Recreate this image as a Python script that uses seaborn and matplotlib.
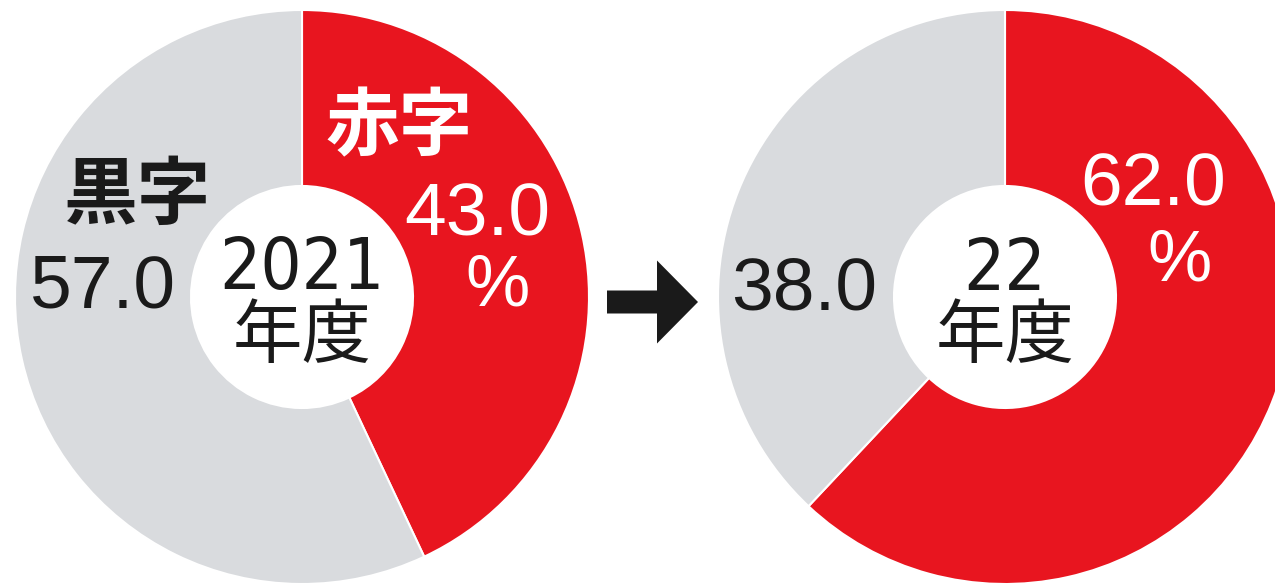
import matplotlib
matplotlib.use("Agg")
import matplotlib.pyplot as plt
import seaborn as sns
from matplotlib.patches import FancyArrow

sns.set_theme(style="white")
plt.rcParams['font.family'] = ['Noto Sans CJK JP', 'DejaVu Sans']

# data
year_labels = ['2021\n年度', '22\n年度']
red_share = [43.0, 62.0]     # 赤字
black_share = [57.0, 38.0]   # 黒字
palette = ['#E8151F', '#D9DBDE']

W, H = 1275, 586
fig = plt.figure(figsize=(W / 100, H / 100), dpi=100)
ax = fig.add_axes([0, 0, 1, 1])
ax.set_xlim(0, W)
ax.set_ylim(0, H)
ax.set_aspect('equal')
ax.axis('off')


def py(y):
    # pixel row -> data y
    return H - y


R = 287
hole = 111
centers = [(302, 297), (1005, 297)]

for i, (cx, cy) in enumerate(centers):
    ax.pie([red_share[i], black_share[i]], colors=palette, startangle=90,
           counterclock=False, center=(cx, py(cy)), radius=R,
           wedgeprops=dict(width=R - hole, edgecolor='white', linewidth=1.5))
    year, suffix = year_labels[i].split('\n')
    ax.text(cx, py(270), year, ha='center', va='center', fontsize=52,
            family=['DejaVu Sans'], fontstretch='condensed', color='#1a1a1a')
    ax.text(cx, py(337), suffix, ha='center', va='center',
            fontsize=50, color='#1a1a1a')

ax.set_xlim(0, W)
ax.set_ylim(0, H)

num_font = ['Liberation Sans', 'DejaVu Sans']

# left donut labels
ax.text(138, py(197), '黒字', ha='center', va='center', fontsize=53,
        fontweight='bold', color='#1a1a1a')
ax.text(103, py(288), f'{black_share[0]:.1f}', ha='center', va='center',
        fontsize=54, family=num_font, color='#1a1a1a')
ax.text(399, py(128), '赤字', ha='center', va='center', fontsize=53,
        fontweight='bold', color='white')
ax.text(477, py(216), f'{red_share[0]:.1f}', ha='center', va='center',
        fontsize=54, family=num_font, color='white')
ax.text(498, py(287), '%', ha='center', va='center',
        fontsize=52, family=num_font, color='white')

# right donut labels
ax.text(804, py(290), f'{black_share[1]:.1f}', ha='center', va='center',
        fontsize=54, family=num_font, color='#1a1a1a')
ax.text(1153, py(186), f'{red_share[1]:.1f}', ha='center', va='center',
        fontsize=54, family=num_font, color='white')
ax.text(1180, py(262), '%', ha='center', va='center',
        fontsize=52, family=num_font, color='white')

# arrow between the two years
ax.add_patch(FancyArrow(607, py(302), 91, 0, width=23, head_width=83,
                        head_length=41, length_includes_head=True,
                        color='#1a1a1a', linewidth=0))

fig.savefig("out.png", dpi=100, facecolor='white')
